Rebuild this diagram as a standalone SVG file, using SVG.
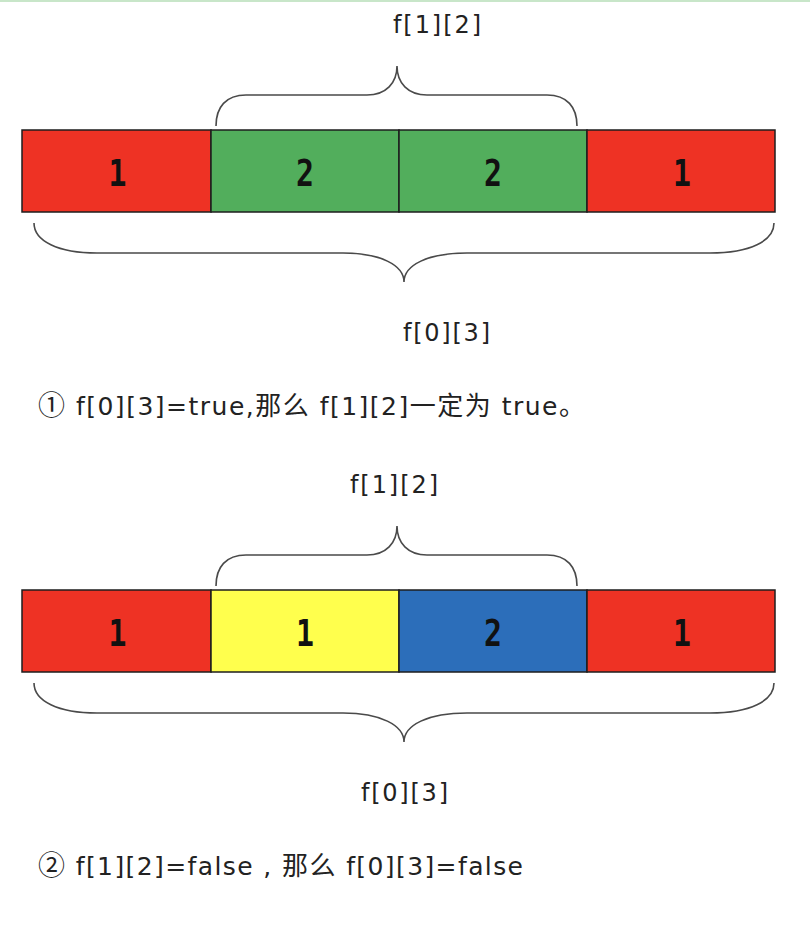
<svg xmlns="http://www.w3.org/2000/svg" width="810" height="932" viewBox="0 0 810 932">
<style>
.cell{stroke:#1e1e1e;stroke-width:1.5}
.red{fill:#EE3224}.green{fill:#52AE5C}.yellow{fill:#FFFF4D}.blue{fill:#2C6EBA}
.num{font-family:"DejaVu Sans Mono","Liberation Mono",monospace;font-weight:bold;font-size:38px;fill:#111}
.lbl{font-family:"DejaVu Sans","Noto Sans CJK SC",sans-serif;font-size:24px;fill:#222}
.note{font-size:25px}
.cjk{font-family:"Noto Sans CJK SC",sans-serif;font-size:26px}
.circ{font-family:"Noto Sans CJK SC",sans-serif;font-size:27px}
.brace{fill:none;stroke:#4a4a4a;stroke-width:1.6}
</style>
<rect x="0" y="0" width="810" height="932" fill="#ffffff"/>
<rect x="0" y="0" width="810" height="2" fill="#C8E6C9"/>

<g id="diagram1">
  <g id="d1-cell0"><rect class="cell red" x="22" y="130" width="189" height="82"/><text class="num" x="108.5" y="186" textLength="18" lengthAdjust="spacingAndGlyphs">1</text></g>
  <g id="d1-cell1"><rect class="cell green" x="211" y="130" width="188" height="82"/><text class="num" x="296" y="186" textLength="18" lengthAdjust="spacingAndGlyphs">2</text></g>
  <g id="d1-cell2"><rect class="cell green" x="399" y="130" width="188" height="82"/><text class="num" x="484" y="186" textLength="18" lengthAdjust="spacingAndGlyphs">2</text></g>
  <g id="d1-cell3"><rect class="cell red" x="587" y="130" width="188" height="82"/><text class="num" x="673" y="186" textLength="18" lengthAdjust="spacingAndGlyphs">1</text></g>
  <g id="d1-connectors">
    <path class="brace" d="M216,126 C216,107 226,95 246,95 L367,95 C386,95 397,83 397,66 C397,83 408,95 427,95 L547,95 C567,95 577,107 577,126"/>
    <path class="brace" d="M34,223 C34,241 58,253 97,253 L343,253 C380,253 404,265 404,282 C404,265 428,253 467,253 L710,253 C750,253 774,241 774,223"/>
  </g>
  <text id="d1-top" class="lbl" x="393" y="33" textLength="88" lengthAdjust="spacing">f[1][2]</text>
  <text id="d1-bottom" class="lbl" x="403" y="341" textLength="87" lengthAdjust="spacing">f[0][3]</text>
  <text id="note1" class="lbl note" x="38" y="415" textLength="547" lengthAdjust="spacing"><tspan class="circ">①</tspan> f[0][3]=true,<tspan class="cjk">那么</tspan> f[1][2]<tspan class="cjk">一定为</tspan> true<tspan class="cjk">。</tspan></text>
</g>

<g id="diagram2">
  <g id="d2-cell0"><rect class="cell red" x="22" y="590" width="189" height="82"/><text class="num" x="108.5" y="646" textLength="18" lengthAdjust="spacingAndGlyphs">1</text></g>
  <g id="d2-cell1"><rect class="cell yellow" x="211" y="590" width="188" height="82"/><text class="num" x="296" y="646" textLength="18" lengthAdjust="spacingAndGlyphs">1</text></g>
  <g id="d2-cell2"><rect class="cell blue" x="399" y="590" width="188" height="82"/><text class="num" x="484" y="646" textLength="18" lengthAdjust="spacingAndGlyphs">2</text></g>
  <g id="d2-cell3"><rect class="cell red" x="587" y="590" width="188" height="82"/><text class="num" x="673" y="646" textLength="18" lengthAdjust="spacingAndGlyphs">1</text></g>
  <g id="d2-connectors">
    <path class="brace" d="M216,586 C216,567 226,555 246,555 L367,555 C386,555 397,543 397,526 C397,543 408,555 427,555 L547,555 C567,555 577,567 577,586"/>
    <path class="brace" d="M34,683 C34,701 58,713 97,713 L343,713 C380,713 404,725 404,742 C404,725 428,713 467,713 L710,713 C750,713 774,701 774,683"/>
  </g>
  <text id="d2-top" class="lbl" x="350" y="493" textLength="88" lengthAdjust="spacing">f[1][2]</text>
  <text id="d2-bottom" class="lbl" x="361" y="801" textLength="87" lengthAdjust="spacing">f[0][3]</text>
  <text id="note2" class="lbl note" x="38" y="875" textLength="485" lengthAdjust="spacing"><tspan class="circ">②</tspan> f[1][2]=false , <tspan class="cjk">那么</tspan> f[0][3]=false</text>
</g>
</svg>
